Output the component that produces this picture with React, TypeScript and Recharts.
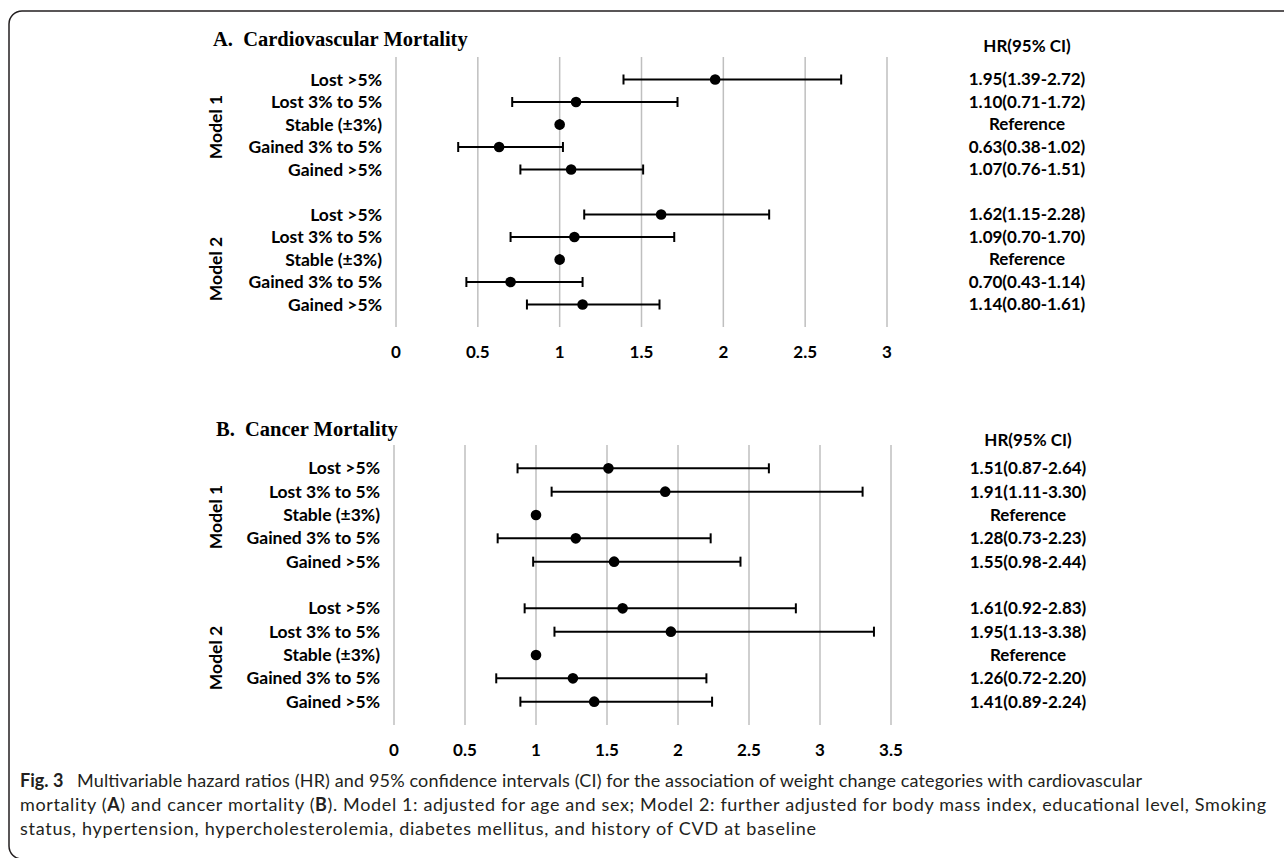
import React from "react";
import { ScatterChart, Scatter, XAxis, YAxis, CartesianGrid, ErrorBar } from "recharts";

const categories = ["Lost >5%", "Lost 3% to 5%", "Stable (±3%)", "Gained 3% to 5%", "Gained >5%"];
// slots on the y axis: model 1 -> 1..5, empty slot 6, model 2 -> 7..11
const rowSlots = [1, 2, 3, 4, 5, 7, 8, 9, 10, 11];

// A. cardiovascular mortality (model 1 then model 2)
const cvdHr = [1.95, 1.1, 1.0, 0.63, 1.07, 1.62, 1.09, 1.0, 0.7, 1.14];
const cvdLow = [1.39, 0.71, 1.0, 0.38, 0.76, 1.15, 0.7, 1.0, 0.43, 0.8];
const cvdHigh = [2.72, 1.72, 1.0, 1.02, 1.51, 2.28, 1.7, 1.0, 1.14, 1.61];
const cvdTicks = [0, 0.5, 1, 1.5, 2, 2.5, 3];

// B. cancer mortality
const cancerHr = [1.51, 1.91, 1.0, 1.28, 1.55, 1.61, 1.95, 1.0, 1.26, 1.41];
const cancerLow = [0.87, 1.11, 1.0, 0.73, 0.98, 0.92, 1.13, 1.0, 0.72, 0.89];
const cancerHigh = [2.64, 3.3, 1.0, 2.23, 2.44, 2.83, 3.38, 1.0, 2.2, 2.24];
const cancerTicks = [0, 0.5, 1, 1.5, 2, 2.5, 3, 3.5];

const SANS = "Lato, 'Open Sans', sans-serif";
const SERIF = "'Liberation Serif', 'DejaVu Serif', serif";
const CAPTION = "#231f20";

function buildRows(hr: number[], low: number[], high: number[]) {
  return rowSlots.map((slot, i) => ({
    y: slot,
    x: hr[i],
    err: [hr[i] - low[i], high[i] - hr[i]],
    label: categories[i % 5],
    hrText:
      low[i] === high[i]
        ? "Reference"
        : `${hr[i].toFixed(2)}(${low[i].toFixed(2)}-${high[i].toFixed(2)})`,
  }));
}

const cvdRows = buildRows(cvdHr, cvdLow, cvdHigh);
const cancerRows = buildRows(cancerHr, cancerLow, cancerHigh);

type Row = ReturnType<typeof buildRows>[number];

interface PanelProps {
  top: number;
  height: number;
  plotTop: number;
  plotBottom: number;
  plotLeft: number;
  plotRight: number;
  hrCenter: number;
  rows: Row[];
  ticks: number[];
}

function ForestPanel({ top, height, plotTop, plotBottom, plotLeft, plotRight, hrCenter, rows, ticks }: PanelProps) {
  const xTick = (props: any) => (
    <text x={props.x} y={props.y + 25} dy="0.35em" textAnchor="middle" fontFamily={SANS} fontWeight={700} fontSize={17} fill="#000">
      {props.payload.value}
    </text>
  );

  const yTick = (props: any) => {
    const row = rows.find((r) => r.y === props.payload.value);
    if (!row) return <g />;
    return (
      <g fontFamily={SANS} fontWeight={700} fill="#000">
        <text x={props.x - 14} y={props.y} dy="0.35em" textAnchor="end" fontSize={17.5}>
          {row.label}
        </text>
        <text x={hrCenter} y={props.y} dy="0.35em" textAnchor="middle" fontSize={17}>
          {row.hrText}
        </text>
      </g>
    );
  };

  const dot = (props: any) => <circle cx={props.cx} cy={props.cy} r={5.3} fill="#000" />;

  return (
    <div style={{ position: "absolute", left: 0, top, width: 1284, height }}>
      <ScatterChart
        width={1284}
        height={height}
        margin={{ top: plotTop, right: 1284 - plotRight, bottom: 0, left: 0 }}
      >
        <CartesianGrid horizontal={false} stroke="#bfbfbf" strokeWidth={1.5} />
        <XAxis
          type="number"
          dataKey="x"
          domain={[0, ticks[ticks.length - 1]]}
          ticks={ticks}
          interval={0}
          axisLine={false}
          tickLine={false}
          tickSize={0}
          tickMargin={0}
          height={height - plotBottom}
          tick={xTick}
        />
        <YAxis
          type="number"
          dataKey="y"
          domain={[0, 12]}
          ticks={[1, 2, 3, 4, 5, 6, 7, 8, 9, 10, 11]}
          interval={0}
          reversed
          axisLine={false}
          tickLine={false}
          tickSize={0}
          tickMargin={0}
          width={plotLeft}
          tick={yTick}
        />
        <Scatter data={rows} shape={dot} isAnimationActive={false}>
          <ErrorBar dataKey="err" direction="x" width={5} stroke="#000" strokeWidth={2} />
        </Scatter>
      </ScatterChart>
    </div>
  );
}

export default function App() {
  return (
    <div style={{ position: "absolute", left: 0, top: 0, width: 1284, height: 858, background: "#fff", overflow: "hidden" }}>
      <ForestPanel
        top={0}
        height={380}
        plotTop={57}
        plotBottom={327}
        plotLeft={396}
        plotRight={887}
        hrCenter={1027}
        rows={cvdRows}
        ticks={cvdTicks}
      />
      <ForestPanel
        top={390}
        height={380}
        plotTop={55}
        plotBottom={335}
        plotLeft={394}
        plotRight={891}
        hrCenter={1028}
        rows={cancerRows}
        ticks={cancerTicks}
      />
      <svg width={1284} height={858} style={{ position: "absolute", left: 0, top: 0, pointerEvents: "none" }}>
        <rect x={9} y={11} width={1300} height={848} rx={13} fill="none" stroke={CAPTION} strokeWidth={1.5} />

        <text x={213} y={46} fontFamily={SERIF} fontWeight={700} fontSize={20.5} fill="#000" style={{ whiteSpace: "pre" }}>
          A.  Cardiovascular Mortality
        </text>
        <text x={216} y={436} fontFamily={SERIF} fontWeight={700} fontSize={20.5} fill="#000" style={{ whiteSpace: "pre" }}>
          B.  Cancer Mortality
        </text>

        <g fontFamily={SANS} fontWeight={700} fontSize={17.5} fill="#000" textAnchor="middle">
          <text x={1027} y={46} dy="0.35em" fontSize={17}>HR(95% CI)</text>
          <text x={1028} y={440} dy="0.35em" fontSize={17}>HR(95% CI)</text>
          <text transform="translate(216,127) rotate(-90)" dy="0.35em">Model 1</text>
          <text transform="translate(216,269) rotate(-90)" dy="0.35em">Model 2</text>
          <text transform="translate(216,517) rotate(-90)" dy="0.35em">Model 1</text>
          <text transform="translate(216,658) rotate(-90)" dy="0.35em">Model 2</text>
        </g>

        <g fontFamily={SANS} fontSize={18} fill={CAPTION} style={{ whiteSpace: "pre" }}>
          <text x={20} y={781} dy="0.35em" fontWeight={700}>
            Fig. 3
          </text>
          <text x={77} y={781} dy="0.35em" textLength={1065} lengthAdjust="spacing">
            Multivariable hazard ratios (HR) and 95% confidence intervals (CI) for the association of weight change categories with cardiovascular
          </text>
          <text x={20} y={805} dy="0.35em" textLength={1246} lengthAdjust="spacing">
            {"mortality ("}
            <tspan fontWeight={700}>A</tspan>
            {") and cancer mortality ("}
            <tspan fontWeight={700}>B</tspan>
            {"). Model 1: adjusted for age and sex; Model 2: further adjusted for body mass index, educational level, Smoking"}
          </text>
          <text x={20} y={829} dy="0.35em" textLength={796} lengthAdjust="spacing">
            status, hypertension, hypercholesterolemia, diabetes mellitus, and history of CVD at baseline
          </text>
        </g>
      </svg>
    </div>
  );
}
